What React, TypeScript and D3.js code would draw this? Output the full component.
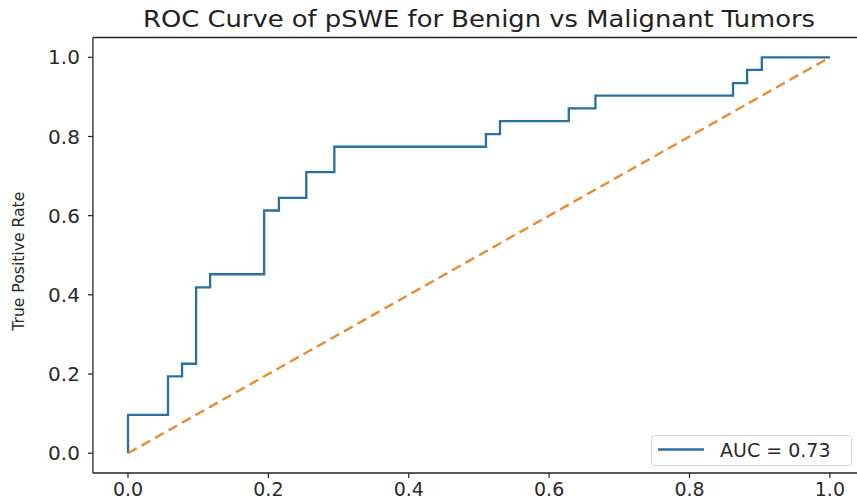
import * as d3 from 'd3';

// ROC points (false positive rate, true positive rate)
const fpr = [0, 0, 0.057, 0.057, 0.077, 0.077, 0.097, 0.097, 0.117, 0.117, 0.194, 0.194, 0.215, 0.215, 0.254, 0.254, 0.294, 0.294, 0.51, 0.51, 0.53, 0.53, 0.628, 0.628, 0.666, 0.666, 0.862, 0.862, 0.882, 0.882, 0.903, 0.903, 1.0];
const tpr = [0, 0.097, 0.097, 0.194, 0.194, 0.226, 0.226, 0.419, 0.419, 0.452, 0.452, 0.613, 0.613, 0.645, 0.645, 0.71, 0.71, 0.774, 0.774, 0.806, 0.806, 0.839, 0.839, 0.871, 0.871, 0.903, 0.903, 0.935, 0.935, 0.968, 0.968, 1.0, 1.0];
const chance = [0, 1];
const xTicks = [0, 0.2, 0.4, 0.6, 0.8, 1.0];
const yTicks = [0, 0.2, 0.4, 0.6, 0.8, 1.0];
const title = 'ROC Curve of pSWE for Benign vs Malignant Tumors';
const yLabel = 'True Positive Rate';
const legendLabel = 'AUC = 0.73';

const W = 857;
const H = 502;
const blue = '#27709f';
const orange = '#ec8a33';
const font = '"DejaVu Sans", sans-serif';

export default function App() {
  const x = d3.scaleLinear().domain([-0.05, 1.05]).range([92.9, 865]);
  const y = d3.scaleLinear().domain([-0.05, 1.05]).range([473, 37.5]);

  const line = d3.line<number>()
    .x((_, i) => x(fpr[i]))
    .y(d => y(d));

  const diag = d3.line<number>()
    .x(d => x(d))
    .y(d => y(d));

  const left = x.range()[0];
  const bottom = y.range()[0];
  const top = y.range()[1];

  return (
    <>
      <style>{'body{margin:0;background:#fff}'}</style>
      <svg width={W} height={H} style={{ display: 'block', background: '#fff' }}>
        <text x={479} y={27} fontFamily={font} fontSize={23} fill="#222" textAnchor="middle"
          textLength={672} lengthAdjust="spacingAndGlyphs">{title}</text>

        {/* spines */}
        <g stroke="#222" strokeWidth={1.3} fill="none">
          <line x1={left} x2={left} y1={top} y2={bottom} />
          <line x1={left} x2={W} y1={top} y2={top} />
          <line x1={left} x2={W} y1={bottom} y2={bottom} />
        </g>

        {/* y axis */}
        {yTicks.map(t => (
          <g key={'y' + t}>
            <line x1={left - 5} x2={left} y1={y(t)} y2={y(t)} stroke="#222" strokeWidth={1.2} />
            <text x={left - 13} y={y(t)} dy="0.36em" textAnchor="end" fontFamily={font} fontSize={20} fill="#2a2a2a">
              {t.toFixed(1)}
            </text>
          </g>
        ))}
        <text transform={`translate(24,${(top + bottom) / 2 + 6}) rotate(-90)`} textAnchor="middle"
          fontFamily={font} fontSize={16} fill="#2a2a2a" textLength={139} lengthAdjust="spacingAndGlyphs">{yLabel}</text>

        {/* x axis */}
        {xTicks.map(t => (
          <g key={'x' + t}>
            <line x1={x(t)} x2={x(t)} y1={bottom} y2={bottom + 5} stroke="#222" strokeWidth={1.2} />
            <text x={x(t)} y={496} textAnchor="middle" fontFamily={font} fontSize={19} fill="#2a2a2a">
              {t.toFixed(1)}
            </text>
          </g>
        ))}

        <path d={line(tpr) ?? ''} fill="none" stroke={blue} strokeWidth={2.3} />
        <path d={diag(chance) ?? ''} fill="none" stroke={orange} strokeWidth={2.4} strokeDasharray="10,5.5" />

        {/* legend */}
        <rect x={651.5} y={435.5} width={200} height={30} rx={3} fill="#fff" fillOpacity={0.85} stroke="#d4d4d4" />
        <line x1={658} x2={704} y1={449.5} y2={449.5} stroke={blue} strokeWidth={2.3} />
        <text x={720} y={450} dy="0.36em" fontFamily={font} fontSize={19} fill="#2a2a2a">{legendLabel}</text>
      </svg>
    </>
  );
}
